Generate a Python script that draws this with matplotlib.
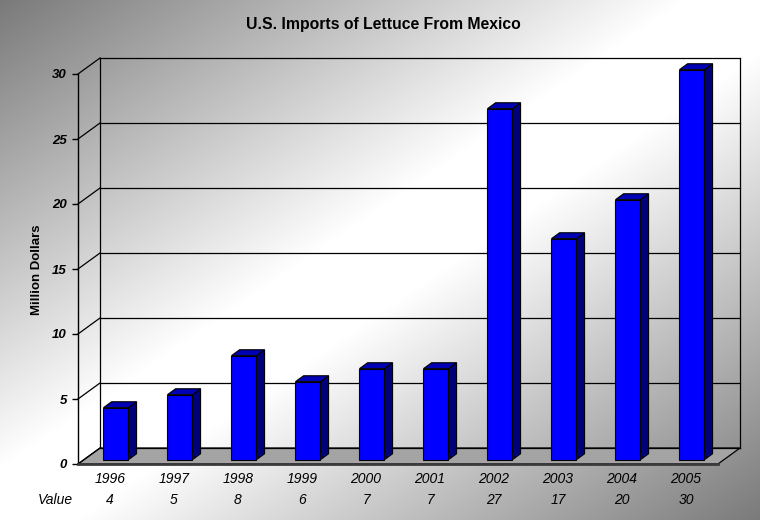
import numpy as np
import matplotlib
matplotlib.use("Agg")
import matplotlib.pyplot as plt
from matplotlib.patches import Polygon

# ---------------- data ----------------
years = ["1996", "1997", "1998", "1999", "2000", "2001", "2002", "2003", "2004", "2005"]
values = [4, 5, 8, 6, 7, 7, 27, 17, 20, 30]
yticks = [0, 5, 10, 15, 20, 25, 30]
title = "U.S. Imports of Lettuce From Mexico"
ylabel = "Million Dollars"

plt.rcParams['font.family'] = ['Liberation Sans', 'DejaVu Sans']

W, H = 760, 520
fig = plt.figure(figsize=(W / 100, H / 100), dpi=100)

# ---------------- background gradient ----------------
bg = fig.add_axes([0, 0, 1, 1], zorder=0)
yy, xx = np.mgrid[0:H, 0:W]
t = (xx / W + yy / H) / 2.0
d = np.abs(t - 0.5)
v = (255 - 133 * np.clip((d - 0.05) / 0.45, 0, 1)) / 255.0
img = np.dstack([v, v, v])
bg.imshow(img, aspect='auto', extent=[0, 1, 0, 1], origin='upper')
bg.set_axis_off()

# ---------------- main axes (front plane) ----------------
L, R, B, T = 78, 718, 464, 74
ax = fig.add_axes([L / W, 1 - B / H, (R - L) / W, (B - T) / H], zorder=1)
ax.patch.set_alpha(0)
n = len(years)
ax.set_xlim(-0.5, n - 0.5)
ax.set_ylim(0, 30)

px_x = (R - L) / n          # pixels per category
px_y = (B - T) / 30.0       # pixels per value unit
DX = 22 / px_x              # depth offset in data units
DY = 16 / px_y


def P(x, y, f):
    return (x + f * DX, y + f * DY)


x0, x1 = -0.5, n - 0.5

# floor
floor = Polygon([P(x0, 0, 0), P(x1, 0, 0), P(x1, 0, 1), P(x0, 0, 1)], closed=True,
                facecolor='#a4a4a4', edgecolor='black', lw=0.9, zorder=1, clip_on=False)
ax.add_patch(floor)

# back wall grid lines and side wall diagonals
for yv in yticks:
    bx, by = zip(P(x0, yv, 1), P(x1, yv, 1))
    ax.plot(bx, by, color='black', lw=0.9, zorder=2, clip_on=False)
    sx, sy = zip(P(x0, yv, 0), P(x0, yv, 1))
    ax.plot(sx, sy, color='black', lw=0.9, zorder=2, clip_on=False)
# wall verticals
for xv in (x0, x1):
    vx, vy = zip(P(xv, 0, 1), P(xv, 30, 1))
    ax.plot(vx, vy, color='black', lw=0.9, zorder=2, clip_on=False)

# ---------------- bars ----------------
f0, f1 = 0.27, 0.64
bw = 0.39
xs = np.arange(n)
bars = ax.bar(xs + f0 * DX, values, width=bw, bottom=f0 * DY, color='#0000ff',
              edgecolor='black', linewidth=0.8, zorder=5)
for b in bars:
    b.set_clip_on(False)
for i, val in enumerate(values):
    xl = i - bw / 2
    xr = i + bw / 2
    side = Polygon([P(xr, 0, f0), P(xr, 0, f1), P(xr, val, f1), P(xr, val, f0)],
                   closed=True, facecolor='#00007c', edgecolor='black', lw=0.8,
                   zorder=4, clip_on=False)
    top = Polygon([P(xl, val, f0), P(xr, val, f0), P(xr, val, f1), P(xl, val, f1)],
                  closed=True, facecolor='#0000b4', edgecolor='black', lw=0.8,
                  zorder=4, clip_on=False)
    ax.add_patch(side)
    ax.add_patch(top)

# ---------------- axes styling ----------------
for s in ('top', 'right'):
    ax.spines[s].set_visible(False)
ax.spines['left'].set_color('black')
ax.spines['left'].set_linewidth(1.0)
ax.spines['bottom'].set_color('#3a3a3a')
ax.spines['bottom'].set_linewidth(2.0)
ax.spines['bottom'].set_zorder(3)

ax.set_yticks(yticks)
ax.set_yticklabels([str(y) for y in yticks], fontsize=9.5, fontweight='bold', fontstyle='italic')
ax.tick_params(axis='y', length=4.5, width=1.0, pad=3.5, direction='out')

ax.set_xticks(xs)
ax.set_xticklabels(years, fontsize=10, fontstyle='italic')
ax.tick_params(axis='x', length=0, pad=6)

trans = ax.get_xaxis_transform()
yrow = -(500 - B) / (B - T)
for i, val in enumerate(values):
    ax.text(i, yrow, str(val), transform=trans, ha='center', va='center',
            fontsize=10, fontstyle='italic')
ax.text((55 - L) / px_x - 0.5, yrow, "Value", transform=trans, ha='center', va='center',
        fontsize=10, fontstyle='italic')

fig.text(37 / W, 1 - 270 / H, ylabel, rotation=90, ha='center', va='center',
         fontsize=9.5, fontweight='bold')
fig.text(383 / W, 1 - 25 / H, title, ha='center', va='center',
         fontsize=11.3, fontweight='bold')

fig.savefig("out.png", dpi=100)
